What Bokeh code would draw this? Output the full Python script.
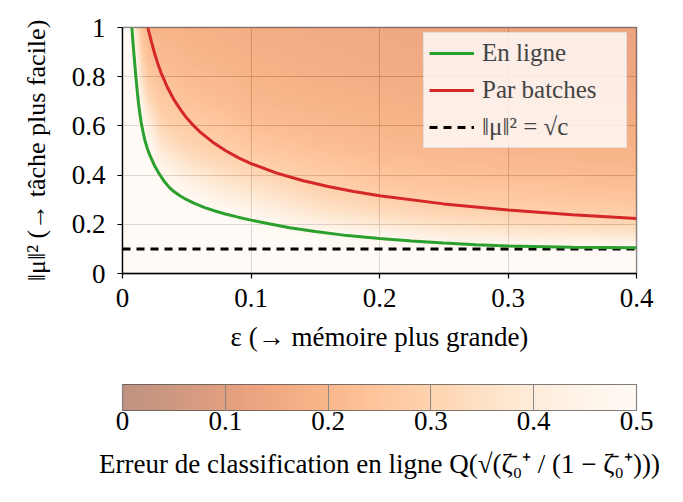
import numpy as np
from bokeh.plotting import figure
from bokeh.models import (LinearColorMapper, ColorBar, FixedTicker, Legend,
                          LegendItem, Title, Range1d)
from bokeh.palettes import Oranges256
from bokeh.embed import file_html
from bokeh.resources import INLINE

# ---------------- data ----------------
# Phase-transition curves (epsilon -> ||mu||^2)
online_eps = [0.0073, 0.008, 0.009, 0.0104, 0.0115, 0.0125, 0.0135, 0.0145, 0.016, 0.0175,
              0.0195, 0.0215, 0.025, 0.028, 0.032, 0.036, 0.04, 0.045, 0.05, 0.056,
              0.064, 0.072, 0.08, 0.09, 0.1, 0.115, 0.13, 0.15, 0.175, 0.2,
              0.225, 0.25, 0.275, 0.3, 0.35, 0.4]
online_mu2 = [1.0, 0.95, 0.885, 0.8, 0.74, 0.69, 0.65, 0.615, 0.575, 0.54,
              0.505, 0.478, 0.438, 0.41, 0.378, 0.352, 0.333, 0.315, 0.3, 0.285,
              0.268, 0.254, 0.242, 0.229, 0.217, 0.201, 0.186, 0.171, 0.154, 0.142,
              0.132, 0.124, 0.117, 0.112, 0.107, 0.105]

batch_eps = [0.0197, 0.0225, 0.025, 0.0275, 0.03, 0.035, 0.04, 0.045, 0.05, 0.055,
             0.06, 0.07, 0.08, 0.09, 0.1, 0.12, 0.14, 0.16, 0.18, 0.2,
             0.25, 0.3, 0.35, 0.4]
batch_mu2 = [1.0, 0.943, 0.894, 0.853, 0.816, 0.756, 0.707, 0.667, 0.632, 0.603,
             0.577, 0.535, 0.5, 0.471, 0.447, 0.408, 0.378, 0.354, 0.333, 0.316,
             0.283, 0.258, 0.239, 0.224]

sqrt_c = 0.1
sqrt_c_eps = [0.0, 0.4]

# Heat map: online classification error, read on a grid
eps_grid = [0, 0.005, 0.01, 0.015, 0.02, 0.03, 0.04, 0.05, 0.075, 0.1,
            0.15, 0.2, 0.25, 0.3, 0.35, 0.4]
mu2_grid = [0, 0.05, 0.1, 0.15, 0.2, 0.25, 0.3, 0.35, 0.4, 0.5, 0.6, 0.7, 0.8, 0.9, 1.0]

err_eps_0000 = [0.5] * 15
err_eps_0005 = [0.5] * 15
err_eps_0010 = [0.5, 0.5, 0.5, 0.5, 0.5, 0.5, 0.5, 0.5, 0.5, 0.5, 0.5, 0.5, 0.5, 0.44, 0.36]
err_eps_0015 = [0.5, 0.5, 0.5, 0.5, 0.5, 0.5, 0.5, 0.5, 0.5, 0.5, 0.5, 0.42, 0.34, 0.28, 0.24]
err_eps_0020 = [0.5, 0.5, 0.5, 0.5, 0.5, 0.5, 0.5, 0.5, 0.5, 0.5, 0.42, 0.33, 0.265, 0.225, 0.2]
err_eps_0030 = [0.5, 0.5, 0.5, 0.5, 0.5, 0.5, 0.5, 0.5, 0.48, 0.39, 0.31, 0.265, 0.23, 0.21, 0.19]
err_eps_0040 = [0.5, 0.5, 0.5, 0.5, 0.5, 0.5, 0.5, 0.48, 0.44, 0.35, 0.29, 0.255, 0.225, 0.205, 0.185]
err_eps_0050 = [0.5, 0.5, 0.5, 0.5, 0.5, 0.5, 0.5, 0.45, 0.40, 0.32, 0.275, 0.24, 0.215, 0.195, 0.18]
err_eps_0075 = [0.5, 0.5, 0.5, 0.5, 0.5, 0.5, 0.44, 0.39, 0.35, 0.29, 0.255, 0.225, 0.205, 0.185, 0.175]
err_eps_0100 = [0.5, 0.5, 0.5, 0.5, 0.5, 0.45, 0.40, 0.36, 0.32, 0.265, 0.23, 0.205, 0.19, 0.175, 0.165]
err_eps_0150 = [0.5, 0.5, 0.5, 0.5, 0.43, 0.37, 0.33, 0.30, 0.275, 0.235, 0.21, 0.19, 0.175, 0.165, 0.155]
err_eps_0200 = [0.5, 0.5, 0.5, 0.47, 0.38, 0.33, 0.295, 0.265, 0.245, 0.215, 0.195, 0.18, 0.165, 0.155, 0.148]
err_eps_0250 = [0.5, 0.5, 0.5, 0.42, 0.35, 0.305, 0.275, 0.25, 0.235, 0.205, 0.185, 0.17, 0.158, 0.148, 0.142]
err_eps_0300 = [0.5, 0.5, 0.5, 0.40, 0.335, 0.295, 0.265, 0.245, 0.225, 0.198, 0.178, 0.163, 0.152, 0.143, 0.137]
err_eps_0350 = [0.5, 0.5, 0.5, 0.39, 0.325, 0.285, 0.255, 0.235, 0.218, 0.192, 0.172, 0.158, 0.147, 0.139, 0.133]
err_eps_0400 = [0.5, 0.5, 0.5, 0.38, 0.315, 0.275, 0.248, 0.228, 0.212, 0.186, 0.167, 0.153, 0.143, 0.135, 0.129]

x_ticks = [0, 0.1, 0.2, 0.3, 0.4]
x_tick_labels = ["0", "0.1", "0.2", "0.3", "0.4"]
y_ticks = [0, 0.2, 0.4, 0.6, 0.8, 1]
y_tick_labels = ["0", "0.2", "0.4", "0.6", "0.8", "1"]
cb_ticks = [0, 0.1, 0.2, 0.3, 0.4, 0.5]
cb_tick_labels = ["0", "0.1", "0.2", "0.3", "0.4", "0.5"]

x_label = "ε (→ mémoire plus grande)"
y_label = "‖μ‖² (→ tâche plus facile)"
cb_title = "Erreur de classification en ligne Q(√(ζ̄₀⁺ / (1 − ζ̄₀⁺)))"
legend_labels = ["En ligne", "Par batches", "‖μ‖² = √c"]

# ---------------- rendering ----------------
FONT = "Liberation Serif"

err_cols = np.array([err_eps_0000, err_eps_0005, err_eps_0010, err_eps_0015, err_eps_0020,
                     err_eps_0030, err_eps_0040, err_eps_0050, err_eps_0075, err_eps_0100,
                     err_eps_0150, err_eps_0200, err_eps_0250, err_eps_0300, err_eps_0350,
                     err_eps_0400])           # (n_eps, n_mu)
err_grid = err_cols.T                         # (n_mu, n_eps)

# smooth display of the grid (bilinear resampling for shading)
px_eps = np.linspace(0, 0.4, 515)
px_mu = np.linspace(0, 1, 247)
tmp = np.array([np.interp(px_eps, eps_grid, row) for row in err_grid])
img = np.array([np.interp(px_mu, mu2_grid, tmp[:, j]) for j in range(tmp.shape[1])]).T

mapper = LinearColorMapper(palette=Oranges256, low=0, high=0.5)

p = figure(frame_width=514, frame_height=246,
           min_border_left=122, min_border_right=40, min_border_top=27, min_border_bottom=0,
           x_range=Range1d(0, 0.4), y_range=Range1d(0, 1),
           output_backend="svg", toolbar_location=None,
           background_fill_color="white", border_fill_color="white")

p.image(image=[img], x=0, y=0, dw=0.4, dh=1, color_mapper=mapper, global_alpha=0.5)

r_sq = p.line(sqrt_c_eps, [sqrt_c, sqrt_c], line_color="black", line_width=3, line_dash="8 6")
r_on = p.line(online_eps, online_mu2, line_color="#2ca02c", line_width=3)
r_ba = p.line(batch_eps, batch_mu2, line_color="#d62728", line_width=3)

# grid
for g in (p.xgrid, p.ygrid):
    g.grid_line_color = "#bdbdbd"
    g.grid_line_width = 1
p.xgrid.ticker = FixedTicker(ticks=x_ticks)
p.ygrid.ticker = FixedTicker(ticks=y_ticks)

p.outline_line_color = "#777777"
p.outline_line_width = 1.5

xa = p.xaxis[0]
ya = p.yaxis[0]
xa.ticker = FixedTicker(ticks=x_ticks)
ya.ticker = FixedTicker(ticks=y_ticks)
xa.major_label_overrides = {t: l for t, l in zip(x_ticks, x_tick_labels)}
ya.major_label_overrides = {t: l for t, l in zip(y_ticks, y_tick_labels)}
xa.axis_label = x_label
ya.axis_label = y_label
for ax in (xa, ya):
    ax.axis_line_color = "black"
    ax.axis_line_width = 1.3
    ax.major_tick_line_color = "black"
    ax.major_tick_line_width = 1.2
    ax.major_tick_out = 5
    ax.major_tick_in = 0
    ax.minor_tick_line_color = None
    ax.major_label_text_font = FONT
    ax.major_label_text_font_size = "27px"
    ax.major_label_text_color = "black"
    ax.axis_label_text_font = FONT
    ax.axis_label_text_font_style = "normal"
    ax.axis_label_text_color = "black"
xa.axis_label_text_font_size = "27px"
ya.axis_label_text_font_size = "26px"
xa.major_label_standoff = 10
xa.axis_label_standoff = 12
ya.major_label_standoff = 12
ya.axis_label_standoff = 18

legend = Legend(items=[LegendItem(label=legend_labels[0], renderers=[r_on]),
                       LegendItem(label=legend_labels[1], renderers=[r_ba]),
                       LegendItem(label=legend_labels[2], renderers=[r_sq])],
                location=(301, 125))
legend.label_text_font = FONT
legend.label_text_font_size = "25px"
legend.glyph_width = 45
legend.glyph_height = 30
legend.label_height = 30
legend.label_width = 139
legend.label_standoff = 8
legend.spacing = 7
legend.padding = 5
legend.border_line_color = "#cccccc"
legend.border_line_width = 1.5
legend.background_fill_color = "white"
legend.background_fill_alpha = 0.8
p.add_layout(legend)

spacer = Title(text=" ", text_font_size="20px", standoff=6)
p.add_layout(spacer, "below")

cb = ColorBar(color_mapper=mapper, orientation="horizontal",
              ticker=FixedTicker(ticks=cb_ticks),
              major_label_overrides={t: l for t, l in zip(cb_ticks, cb_tick_labels)},
              major_label_text_font=FONT, major_label_text_font_size="27px",
              major_label_text_color="black",
              label_standoff=1, width=514, height=26, scale_alpha=0.5,
              bar_line_color="black", bar_line_width=1.2,
              major_tick_line_color="#888888", major_tick_in=26, major_tick_out=0,
              minor_tick_line_color=None, padding=0, margin=0,
              background_fill_alpha=0, border_line_color=None)
p.add_layout(cb, "below")

t = Title(text=cb_title, align="center", text_font=FONT, text_font_size="27px",
          text_font_style="normal", text_color="black", standoff=28)
p.add_layout(t, "below")

open("out.html", "w").write(file_html(p, INLINE))
